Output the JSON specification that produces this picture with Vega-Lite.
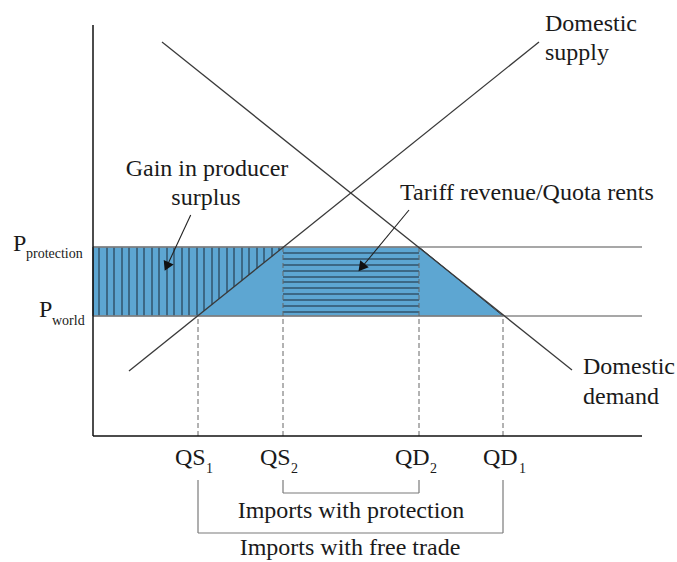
{
  "$schema": "https://vega.github.io/schema/vega-lite/v6.json",
  "width": 584,
  "height": 436,
  "autosize": {"type": "none"},
  "padding": {"left": 93, "top": 0, "right": 0, "bottom": 126},
  "background": "white",
  "config": {"view": {"stroke": null}},
  "datasets": {
    "shaded": [
      {"q": 0, "p": 189, "p2": 120},
      {"q": 326, "p": 189, "p2": 120},
      {"q": 410, "p": 120, "p2": 120}
    ],
    "vhatch": [
      {"q": 6, "p": 189, "p2": 120}, {"q": 14, "p": 189, "p2": 120}, {"q": 21, "p": 189, "p2": 120},
      {"q": 29, "p": 189, "p2": 120}, {"q": 36, "p": 189, "p2": 120}, {"q": 44, "p": 189, "p2": 120},
      {"q": 51, "p": 189, "p2": 120}, {"q": 59, "p": 189, "p2": 120}, {"q": 66, "p": 189, "p2": 120},
      {"q": 74, "p": 189, "p2": 120}, {"q": 81, "p": 189, "p2": 120}, {"q": 89, "p": 189, "p2": 120},
      {"q": 96, "p": 189, "p2": 120}, {"q": 104, "p": 189, "p2": 120}, {"q": 111, "p": 189, "p2": 125.2},
      {"q": 119, "p": 189, "p2": 131.6}, {"q": 126, "p": 189, "p2": 137.2}, {"q": 134, "p": 189, "p2": 143.6},
      {"q": 141, "p": 189, "p2": 149.3}, {"q": 149, "p": 189, "p2": 155.7}, {"q": 156, "p": 189, "p2": 161.3},
      {"q": 164, "p": 189, "p2": 167.7}, {"q": 171, "p": 189, "p2": 173.3}, {"q": 179, "p": 189, "p2": 179.7},
      {"q": 186, "p": 189, "p2": 185.4}
    ],
    "hhatch": [
      {"q": 190, "q2": 326, "p": 183}, {"q": 190, "q2": 326, "p": 177}, {"q": 190, "q2": 326, "p": 171},
      {"q": 190, "q2": 326, "p": 165}, {"q": 190, "q2": 326, "p": 159}, {"q": 190, "q2": 326, "p": 154},
      {"q": 190, "q2": 326, "p": 148}, {"q": 190, "q2": 326, "p": 142}, {"q": 190, "q2": 326, "p": 136},
      {"q": 190, "q2": 326, "p": 130}, {"q": 190, "q2": 326, "p": 124}
    ],
    "prices": [
      {"name": "P protection", "q": 0, "q2": 549, "p": 189},
      {"name": "P world", "q": 0, "q2": 549, "p": 120}
    ],
    "drops": [
      {"name": "QS1", "q": 105, "p": 0, "p2": 120},
      {"name": "QS2", "q": 190, "p": 0, "p2": 189},
      {"name": "QD2", "q": 326, "p": 0, "p2": 189},
      {"name": "QD1", "q": 410, "p": 0, "p2": 120}
    ],
    "curves": [
      {"name": "Domestic supply", "q": 36, "p": 65, "q2": 446, "p2": 394},
      {"name": "Domestic demand", "q": 69, "p": 394, "q2": 479, "p2": 66}
    ],
    "axes": [
      {"q": 0, "p": 0, "q2": 0, "p2": 411},
      {"q": 0, "p": 0, "q2": 549, "p2": 0}
    ],
    "brackets": [
      {"q": 190, "p": -44, "q2": 190, "p2": -57},
      {"q": 326, "p": -44, "q2": 326, "p2": -57},
      {"q": 190, "p": -57, "q2": 326, "p2": -57},
      {"q": 105, "p": -44, "q2": 105, "p2": -97},
      {"q": 410, "p": -44, "q2": 410, "p2": -97},
      {"q": 105, "p": -97, "q2": 410, "p2": -97}
    ],
    "arrows": [
      {"name": "producer", "q": 97.7, "p": 221, "q2": 74, "p2": 170, "hq": 73.7, "hp": 169.5},
      {"name": "tariff", "q": 316, "p": 226, "q2": 269, "p2": 169, "hq": 268.5, "hp": 168.5}
    ],
    "labelsLeft": [
      {"text": "Domestic", "q": 452, "p": 405},
      {"text": "supply", "q": 452, "p": 376},
      {"text": "Domestic", "q": 490, "p": 62},
      {"text": "demand", "q": 490, "p": 32},
      {"text": "P", "q": -80, "p": 185},
      {"text": "P", "q": -54, "p": 119},
      {"text": "QS", "q": 82, "p": -29},
      {"text": "QS", "q": 167, "p": -29},
      {"text": "QD", "q": 302, "p": -29},
      {"text": "QD", "q": 390, "p": -29}
    ],
    "labelsCenter": [
      {"text": "Gain in producer", "q": 114, "p": 260},
      {"text": "surplus", "q": 113, "p": 231},
      {"text": "Tariff revenue/Quota rents", "q": 434, "p": 236},
      {"text": "Imports with protection", "q": 258, "p": -82},
      {"text": "Imports with free trade", "q": 257, "p": -119}
    ],
    "subs": [
      {"text": "protection", "q": -67, "p": 178},
      {"text": "world", "q": -41, "p": 111},
      {"text": "1", "q": 113, "p": -37},
      {"text": "2", "q": 198, "p": -37},
      {"text": "2", "q": 337, "p": -37},
      {"text": "1", "q": 426, "p": -37}
    ]
  },
  "encoding": {
    "x": {"field": "q", "type": "quantitative", "axis": null, "scale": {"domain": [0, 584], "nice": false, "zero": false}},
    "y": {"field": "p", "type": "quantitative", "axis": null, "scale": {"domain": [0, 436], "nice": false, "zero": false}}
  },
  "layer": [
    {
      "data": {"name": "shaded"},
      "mark": {"type": "area", "color": "#5da6d2", "opacity": 1, "stroke": "#2b3a48", "strokeWidth": 1, "interpolate": "linear"},
      "encoding": {"y2": {"field": "p2"}}
    },
    {
      "data": {"name": "vhatch"},
      "mark": {"type": "rule", "color": "#1d2b38", "strokeWidth": 1},
      "encoding": {"y2": {"field": "p2"}}
    },
    {
      "data": {"name": "hhatch"},
      "mark": {"type": "rule", "color": "#1d2b38", "strokeWidth": 1.2},
      "encoding": {"x2": {"field": "q2"}}
    },
    {
      "data": {"name": "prices"},
      "mark": {"type": "rule", "color": "#8a8a8a", "strokeWidth": 1.3},
      "encoding": {"x2": {"field": "q2"}}
    },
    {
      "data": {"name": "drops"},
      "mark": {"type": "rule", "color": "#666666", "strokeWidth": 1, "strokeDash": [5, 3]},
      "encoding": {"y2": {"field": "p2"}}
    },
    {
      "data": {"name": "curves"},
      "mark": {"type": "rule", "color": "#3a3a3a", "strokeWidth": 1.3},
      "encoding": {"x2": {"field": "q2"}, "y2": {"field": "p2"}}
    },
    {
      "data": {"name": "axes"},
      "mark": {"type": "rule", "color": "#111111", "strokeWidth": 1.5},
      "encoding": {"x2": {"field": "q2"}, "y2": {"field": "p2"}}
    },
    {
      "data": {"name": "brackets"},
      "mark": {"type": "rule", "color": "#7a7a7a", "strokeWidth": 1.2},
      "encoding": {"x2": {"field": "q2"}, "y2": {"field": "p2"}}
    },
    {
      "data": {"name": "arrows"},
      "mark": {"type": "rule", "color": "#222222", "strokeWidth": 1.1},
      "encoding": {"x2": {"field": "q2"}, "y2": {"field": "p2"}}
    },
    {
      "data": {"name": "arrows"},
      "transform": [{"filter": "datum.name === 'producer'"}],
      "mark": {"type": "point", "shape": "triangle-down", "filled": true, "color": "#111111", "opacity": 1, "size": 120, "angle": 25},
      "encoding": {"x": {"field": "hq", "type": "quantitative"}, "y": {"field": "hp", "type": "quantitative"}}
    },
    {
      "data": {"name": "arrows"},
      "transform": [{"filter": "datum.name === 'tariff'"}],
      "mark": {"type": "point", "shape": "triangle-down", "filled": true, "color": "#111111", "opacity": 1, "size": 120, "angle": 39},
      "encoding": {"x": {"field": "hq", "type": "quantitative"}, "y": {"field": "hp", "type": "quantitative"}}
    },
    {
      "data": {"name": "labelsLeft"},
      "mark": {"type": "text", "align": "left", "baseline": "alphabetic", "font": "Liberation Serif", "fontSize": 24, "color": "#1a1a1a"},
      "encoding": {"text": {"field": "text"}}
    },
    {
      "data": {"name": "labelsCenter"},
      "mark": {"type": "text", "align": "center", "baseline": "alphabetic", "font": "Liberation Serif", "fontSize": 24, "color": "#1a1a1a"},
      "encoding": {"text": {"field": "text"}}
    },
    {
      "data": {"name": "subs"},
      "mark": {"type": "text", "align": "left", "baseline": "alphabetic", "font": "Liberation Serif", "fontSize": 14, "color": "#1a1a1a"},
      "encoding": {"text": {"field": "text"}}
    }
  ]
}
